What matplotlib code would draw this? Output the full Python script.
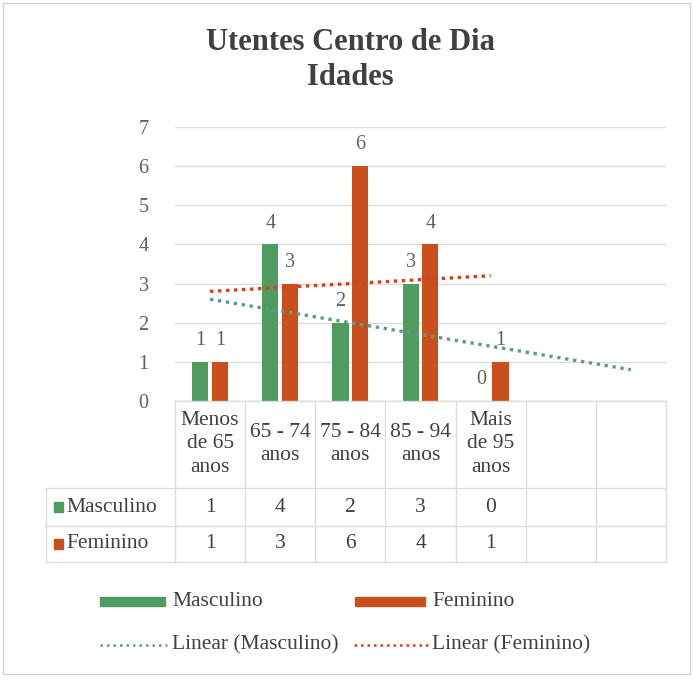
import numpy as np
import matplotlib
matplotlib.use("Agg")
import matplotlib.pyplot as plt
from matplotlib.patches import Rectangle

categories = ["Menos\nde 65\nanos", "65 - 74\nanos", "75 - 84\nanos", "85 - 94\nanos", "Mais\nde 95\nanos", "", ""]
masculino = [1, 4, 2, 3, 0]
feminino = [1, 3, 6, 4, 1]
series_names = ["Masculino", "Feminino"]
yticks = [0, 1, 2, 3, 4, 5, 6, 7]
title = "Utentes Centro de Dia\nIdades"

GREEN = "#4f9b60"
ORANGE = "#c9501c"
TREND_G = "#5d9c8c"
TREND_O = "#d2401f"
GRID = "#dcdcdc"
TXT = "#404040"
AX = "#606060"
FONT = "Liberation Serif"
FS = 15.5

W, H = 693, 682
fig = plt.figure(figsize=(W / 100, H / 100), dpi=100)
fig.patch.set_facecolor("white")

# pixel geometry
x0, x1 = 175, 666
y0, y7 = 401, 127
ax = fig.add_axes([x0 / W, 1 - y0 / H, (x1 - x0) / W, (y0 - y7) / H])
ax.set_xlim(0.5, len(categories) + 0.5)
ax.set_ylim(0, 7)
for s in ax.spines.values():
    s.set_visible(False)
ax.set_xticks([])
ax.set_yticks(yticks)
ax.set_yticklabels([str(t) for t in yticks], fontfamily=FONT, fontsize=14.5, color=AX)
ax.tick_params(axis="y", length=0, pad=19)
ax.yaxis.grid(True, color=GRID, linewidth=1)
ax.set_axisbelow(True)

n = len(masculino)
xs = np.arange(1, n + 1)
bw = 0.23
off = 0.14
ax.bar(xs - off, masculino, width=bw, color=GREEN, zorder=2)
ax.bar(xs + off, feminino, width=bw, color=ORANGE, zorder=2)
for x, v in zip(xs, masculino):
    ax.text(x - off, v + 0.3, str(v), ha="center", va="bottom", fontfamily=FONT, fontsize=14.5, color=AX)
for x, v in zip(xs, feminino):
    ax.text(x + off, v + 0.3, str(v), ha="center", va="bottom", fontfamily=FONT, fontsize=14.5, color=AX)

# linear trendlines
pm = np.polyfit(xs, masculino, 1)
pf = np.polyfit(xs, feminino, 1)
tm = np.array([1, 7])
tf = np.array([1, 5])
ax.plot(tm, np.polyval(pm, tm), color=TREND_G, linewidth=2.4, linestyle=(0, (1, 1.4)), zorder=3)
ax.plot(tf, np.polyval(pf, tf), color=TREND_O, linewidth=2.4, linestyle=(0, (1, 1.4)), zorder=3)

# overlay in pixel coords
ov = fig.add_axes([0, 0, 1, 1])
ov.set_xlim(0, W)
ov.set_ylim(H, 0)
ov.axis("off")
ov.patch.set_alpha(0)

# outer border
ov.add_patch(Rectangle((3, 3), 687, 671, fill=False, edgecolor="#d0d0d0", linewidth=1))

# title
ov.text(350, 60, title, ha="center", va="center", fontfamily=FONT, fontsize=22,
        fontweight="bold", color=TXT, linespacing=1.25)

# data table
colw = (x1 - x0) / len(categories)
hy0, hy1, r1, r2 = 401, 488, 526, 562
lx = 46
ov.plot([x0, x1], [hy0, hy0], color=GRID, lw=1)
for yy in (hy1, r1, r2):
    ov.plot([lx, x1], [yy, yy], color=GRID, lw=1)
for k in range(len(categories) + 1):
    xx = x0 + k * colw
    ov.plot([xx, xx], [hy0, r2], color=GRID, lw=1)
ov.plot([lx, lx], [hy1, r2], color=GRID, lw=1)

for k, c in enumerate(categories):
    if c:
        ov.text(x0 + (k + 0.5) * colw, 444, c, ha="center", va="center", fontfamily=FONT,
                fontsize=FS, color=TXT, linespacing=1.3)

rows = [(masculino, GREEN, series_names[0], (hy1 + r1) / 2),
        (feminino, ORANGE, series_names[1], (r1 + r2) / 2)]
for vals, col, name, yc in rows:
    ov.add_patch(Rectangle((54, yc - 5), 9, 10, color=col))
    ov.text(66, yc, name, ha="left", va="center", fontfamily=FONT, fontsize=FS, color=TXT)
    for k, v in enumerate(vals):
        ov.text(x0 + (k + 0.5) * colw, yc, str(v), ha="center", va="center",
                fontfamily=FONT, fontsize=FS, color=TXT)

# legend
ov.add_patch(Rectangle((100, 597), 65, 9, color=GREEN))
ov.text(172, 601, series_names[0], ha="left", va="center", fontfamily=FONT, fontsize=FS, color=TXT)
ov.add_patch(Rectangle((355, 597), 70, 9, color=ORANGE))
ov.text(432, 601, series_names[1], ha="left", va="center", fontfamily=FONT, fontsize=FS, color=TXT)
ov.plot([100, 167], [645, 645], color=TREND_G, lw=1.8, linestyle=(0, (1, 1.6)))
ov.text(172, 645, "Linear (" + series_names[0] + ")", ha="left", va="center", fontfamily=FONT, fontsize=FS, color=TXT)
ov.plot([354, 428], [645, 645], color=TREND_O, lw=1.8, linestyle=(0, (1, 1.6)))
ov.text(432, 645, "Linear (" + series_names[1] + ")", ha="left", va="center", fontfamily=FONT, fontsize=FS, color=TXT)

fig.savefig("out.png", dpi=100)
